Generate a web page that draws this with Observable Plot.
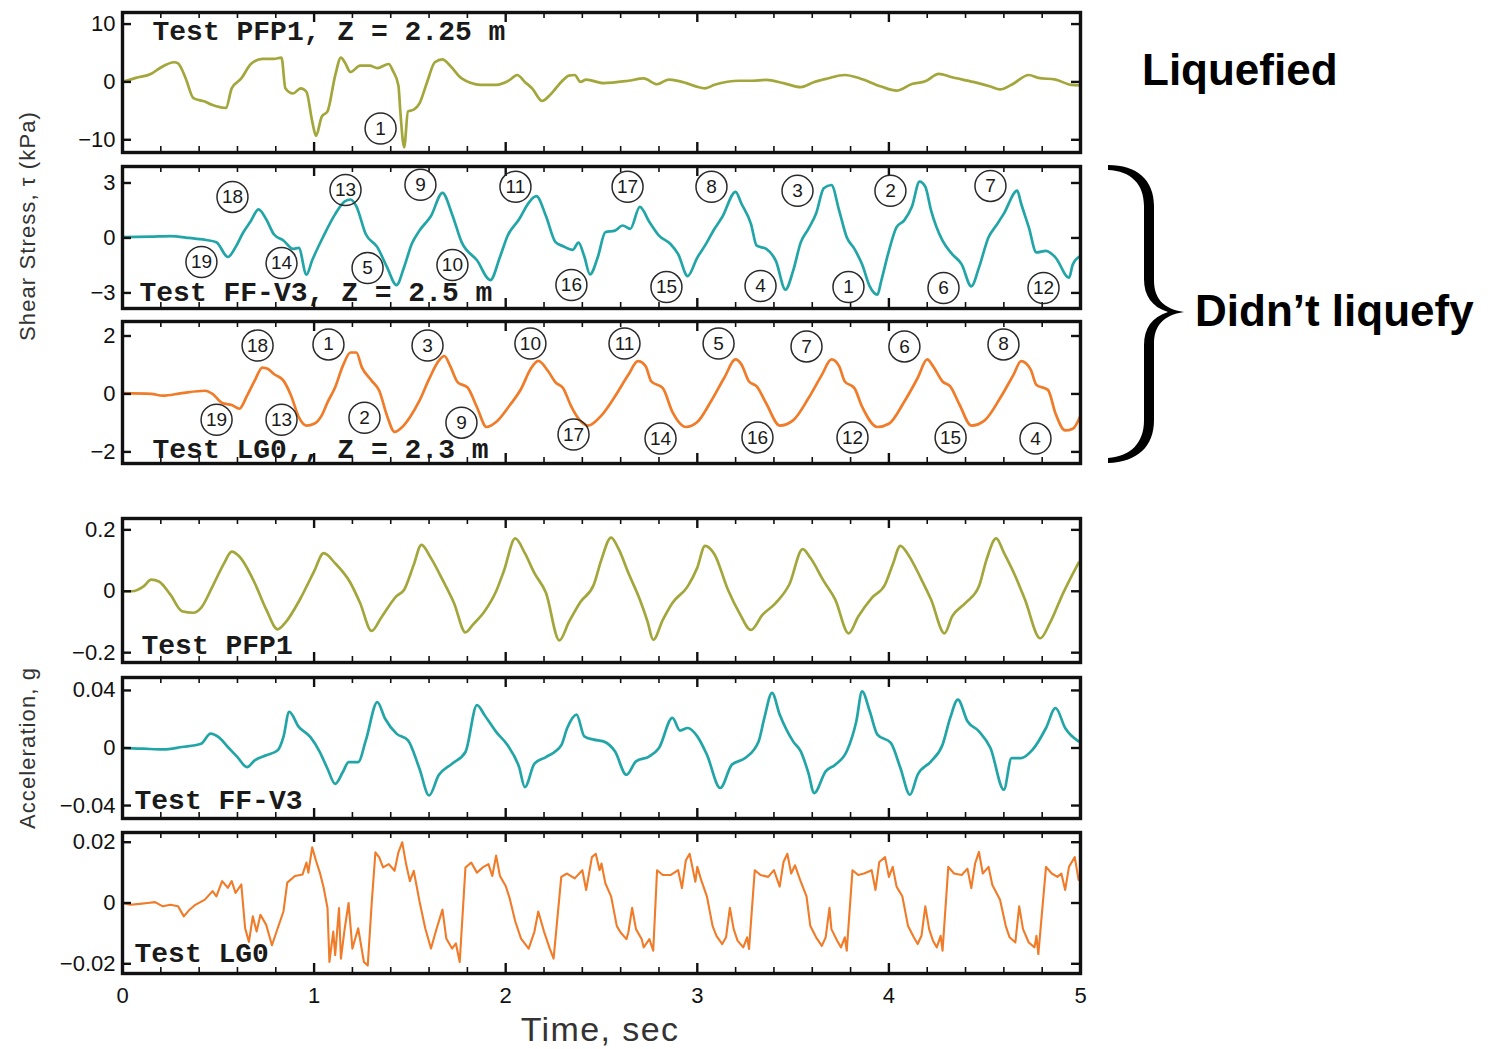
<!DOCTYPE html>
<html>
<head>
<meta charset="utf-8">
<script src="https://cdn.jsdelivr.net/npm/d3@7"></script>
<script src="https://cdn.jsdelivr.net/npm/@observablehq/plot@0.6"></script>
<style>
  body { margin: 0; background: #fff; }
  #chart { position: relative; width: 1490px; height: 1049px; overflow: hidden; background: #fff;
           font-family: "Liberation Sans", Arial, Helvetica, sans-serif; }
  #chart svg.panel { position: absolute; left: 0; }
  #overlay { position: absolute; left: 0; top: 0; pointer-events: none; }
</style>
</head>
<body>
<div id="chart"></div>
<script>
// ---------- time axis ----------
const xMajor = [0, 1, 2, 3, 4, 5];
const xMinor = [0.2, 0.4, 0.6, 0.8, 1.2, 1.4, 1.6, 1.8, 2.2, 2.4, 2.6, 2.8,
                3.2, 3.4, 3.6, 3.8, 4.2, 4.4, 4.6, 4.8];

// ---------- y ticks per panel ----------
const ticksStressPFP1 = [-10, 0, 10];
const ticksStressFFV3 = [-3, 0, 3];
const ticksStressLG0 = [-2, 0, 2];
const ticksAccelPFP1 = [-0.2, 0, 0.2];
const ticksAccelFFV3 = [-0.04, 0, 0.04];
const ticksAccelLG0 = [-0.02, 0, 0.02];

// ---------- shear stress records [time (s), tau (kPa)] ----------
const stressPFP1 = [
  [0,0],[0.07,0.7],[0.15,1.4],[0.2,2.5],[0.27,3.4],[0.29,3.2],[0.33,0.6],[0.37,-2.8],[0.43,-3.4],[0.47,-4],
  [0.54,-4.5],[0.57,-1.1],[0.62,0.6],[0.67,3.1],[0.73,4],[0.79,4],[0.83,4.2],[0.85,-1.1],[0.89,-2],[0.93,-1.1],
  [0.96,-1.7],[0.99,-6.8],[1.01,-9.3],[1.04,-6],[1.07,-5.1],[1.11,1.1],[1.14,4.2],[1.16,3.4],[1.19,1.7],[1.24,2.8],
  [1.29,2.8],[1.33,2.4],[1.39,3.1],[1.41,2],[1.44,-0.6],[1.45,-5.1],[1.47,-11.3],[1.49,-5.1],[1.52,-4.8],[1.55,-3.7],
  [1.59,0],[1.63,3.4],[1.67,3.9],[1.71,2.8],[1.77,0.6],[1.87,-0.5],[1.95,-0.5],[2.02,0.3],[2.06,1.2],[2.1,0],
  [2.14,-1.2],[2.19,-3.3],[2.23,-2.3],[2.29,0],[2.33,1.1],[2.36,1.2],[2.39,0],[2.42,0.4],[2.51,-0.2],[2.64,0.2],
  [2.72,0.6],[2.79,-0.4],[2.85,0.4],[2.91,0.1],[3.04,-1.1],[3.09,-0.5],[3.22,0.2],[3.29,0.2],[3.36,0.35],[3.45,-0.2],
  [3.54,-0.9],[3.61,0],[3.68,0.6],[3.77,1.2],[3.85,0.6],[3.96,-0.8],[4.04,-1.5],[4.12,-0.35],[4.19,0.1],[4.26,1.4],
  [4.33,0.8],[4.44,0],[4.53,-0.8],[4.58,-1.3],[4.64,-0.5],[4.73,1.2],[4.78,0.7],[4.87,0.4],[4.95,-0.5],[5.0,-0.6]
];
const stressFFV3 = [
  [0,0.04],[0.15,0.07],[0.25,0.1],[0.35,0],[0.43,-0.1],[0.49,-0.23],[0.55,-1.04],[0.59,-0.5],[0.63,0.3],[0.67,0.93],
  [0.71,1.56],[0.75,1.02],[0.79,0.2],[0.84,-0.14],[0.89,-0.6],[0.92,-0.54],[0.96,-2.0],[0.99,-1.22],[1.05,0.12],[1.11,1.3],
  [1.16,2.0],[1.19,2.1],[1.22,1.74],[1.27,0.2],[1.33,-0.5],[1.38,-1.58],[1.43,-2.57],[1.47,-1.58],[1.51,-0.32],[1.55,0.4],
  [1.61,1.2],[1.67,2.46],[1.72,1.3],[1.77,-0.23],[1.85,-1.22],[1.92,-2.3],[1.97,-1.04],[2.01,0.12],[2.07,1.02],[2.12,1.92],
  [2.16,2.28],[2.21,1.2],[2.26,-0.23],[2.3,-0.45],[2.35,-0.65],[2.38,-0.25],[2.41,-1.0],[2.44,-1.99],[2.48,-1.07],[2.52,0.31],
  [2.57,0.4],[2.61,0.68],[2.65,0.5],[2.7,1.7],[2.75,0.87],[2.8,0.13],[2.86,-0.33],[2.9,-0.88],[2.95,-2.08],[3.0,-1.07],
  [3.04,-0.42],[3.09,0.5],[3.13,1.14],[3.2,2.52],[3.23,1.88],[3.28,0.77],[3.31,-0.42],[3.36,-0.6],[3.41,-1.25],[3.46,-2.82],
  [3.5,-1.8],[3.54,-0.24],[3.58,0.5],[3.62,1.33],[3.66,2.71],[3.7,2.89],[3.74,1.51],[3.78,0.04],[3.82,-0.6],[3.86,-1.44],
  [3.9,-2.64],[3.94,-3.09],[3.96,-2.35],[4.0,-0.7],[4.04,0.59],[4.08,0.96],[4.12,1.7],[4.16,3.08],[4.19,2.8],[4.22,1.51],
  [4.28,-0.15],[4.33,-0.88],[4.38,-1.44],[4.43,-2.64],[4.47,-1.62],[4.52,0.04],[4.56,0.68],[4.6,1.33],[4.67,2.58],[4.69,1.88],
  [4.73,0.59],[4.77,-0.79],[4.82,-0.7],[4.87,-1.07],[4.94,-2.17],[4.96,-1.44],[5.0,-0.98]
];
const stressLG0 = [
  [0,0.03],[0.15,0],[0.21,-0.06],[0.31,0.03],[0.43,0.11],[0.47,0],[0.52,-0.31],[0.57,-0.38],[0.61,-0.51],[0.65,-0.06],
  [0.69,0.46],[0.73,0.91],[0.76,0.86],[0.79,0.69],[0.84,0.46],[0.88,-0.06],[0.92,-0.8],[0.96,-1.09],[1.0,-1.03],[1.04,-0.74],
  [1.07,-0.29],[1.11,0.23],[1.15,0.97],[1.19,1.43],[1.22,1.43],[1.25,0.91],[1.3,0.46],[1.34,0.11],[1.38,-0.74],[1.42,-1.31],
  [1.46,-1.14],[1.5,-0.8],[1.55,-0.23],[1.6,0.51],[1.65,1.14],[1.68,1.31],[1.71,0.97],[1.75,0.4],[1.8,0.23],[1.85,-0.46],
  [1.9,-1.14],[1.95,-0.97],[2.02,-0.4],[2.08,0.17],[2.13,0.86],[2.17,1.14],[2.22,0.8],[2.26,0.4],[2.3,0.2],[2.34,-0.4],
  [2.38,-0.85],[2.43,-1.09],[2.5,-0.74],[2.57,-0.09],[2.64,0.66],[2.69,1.13],[2.73,0.96],[2.76,0.43],[2.82,0.2],[2.87,-0.62],
  [2.94,-1.14],[3.0,-0.97],[3.07,-0.27],[3.14,0.55],[3.2,1.19],[3.23,1.02],[3.27,0.43],[3.31,0.26],[3.36,-0.33],[3.43,-1.09],
  [3.5,-0.91],[3.58,-0.15],[3.65,0.66],[3.7,1.19],[3.74,0.96],[3.77,0.43],[3.82,0.2],[3.86,-0.44],[3.94,-1.14],[4.0,-1.03],
  [4.08,-0.27],[4.15,0.55],[4.2,1.19],[4.23,0.96],[4.28,0.43],[4.32,0.26],[4.37,-0.39],[4.43,-1.09],[4.5,-0.91],[4.58,-0.15],
  [4.65,0.66],[4.69,1.13],[4.74,0.84],[4.77,0.31],[4.83,0.14],[4.87,-0.68],[4.92,-1.26],[4.96,-1.2],[5.0,-0.74]
];

// ---------- base acceleration records [time (s), acceleration (g)] ----------
const accelPFP1 = [
  [0,0],[0.05,0],[0.11,0.016],[0.15,0.038],[0.19,0.032],[0.25,-0.011],[0.31,-0.065],[0.37,-0.07],[0.41,-0.054],[0.47,0.016],
  [0.53,0.091],[0.57,0.129],[0.61,0.113],[0.69,0.027],[0.75,-0.059],[0.81,-0.124],[0.85,-0.102],[0.93,-0.022],[1.0,0.065],[1.05,0.124],
  [1.11,0.091],[1.19,0.027],[1.24,-0.038],[1.3,-0.129],[1.35,-0.086],[1.43,-0.016],[1.47,0.005],[1.52,0.086],[1.56,0.151],[1.61,0.108],
  [1.67,0.038],[1.73,-0.038],[1.79,-0.134],[1.83,-0.108],[1.89,-0.065],[1.95,0],[1.99,0.065],[2.05,0.172],[2.1,0.124],[2.15,0.059],
  [2.21,-0.005],[2.28,-0.16],[2.33,-0.1],[2.39,-0.035],[2.46,0.022],[2.5,0.104],[2.55,0.175],[2.59,0.137],[2.64,0.06],[2.7,-0.027],
  [2.74,-0.098],[2.77,-0.158],[2.82,-0.093],[2.87,-0.038],[2.95,0.016],[3.0,0.077],[3.04,0.148],[3.09,0.12],[3.16,0.005],[3.22,-0.071],
  [3.28,-0.126],[3.34,-0.077],[3.41,-0.038],[3.48,0.022],[3.55,0.137],[3.59,0.109],[3.66,0.033],[3.72,-0.027],[3.79,-0.137],[3.84,-0.082],
  [3.91,-0.022],[3.98,0.022],[4.02,0.087],[4.06,0.148],[4.1,0.12],[4.17,0.038],[4.22,-0.027],[4.29,-0.137],[4.33,-0.082],[4.4,-0.038],
  [4.47,0.016],[4.51,0.104],[4.56,0.172],[4.6,0.126],[4.66,0.049],[4.71,-0.027],[4.79,-0.153],[4.84,-0.104],[4.91,-0.005],[4.99,0.093]
];
const accelFFV3 = [
  [0,0],[0.11,-0.0005],[0.21,-0.001],[0.31,0.0007],[0.41,0.003],[0.46,0.01],[0.5,0.0077],[0.55,0.0007],[0.6,-0.0063],[0.65,-0.0133],
  [0.69,-0.0086],[0.75,-0.0051],[0.81,-0.0016],[0.84,0.0077],[0.87,0.0251],[0.92,0.0147],[0.98,0.0077],[1.03,-0.0028],[1.07,-0.0144],[1.11,-0.0249],
  [1.15,-0.0167],[1.18,-0.0098],[1.23,-0.0098],[1.27,0.0053],[1.33,0.0319],[1.37,0.0205],[1.43,0.01],[1.49,0.0053],[1.55,-0.0144],[1.6,-0.033],
  [1.65,-0.019],[1.72,-0.0109],[1.79,-0.0028],[1.85,0.0298],[1.89,0.0228],[1.95,0.0112],[2.01,0.0019],[2.07,-0.0133],[2.1,-0.0272],[2.15,-0.0109],
  [2.21,-0.0063],[2.29,0.0019],[2.32,0.0135],[2.37,0.0232],[2.41,0.0081],[2.46,0.0058],[2.51,0.0046],[2.57,-0.0023],[2.63,-0.0186],[2.68,-0.0093],
  [2.75,-0.0058],[2.8,0],[2.87,0.0209],[2.91,0.0121],[2.95,0.0139],[3.0,0.0081],[3.05,-0.0046],[3.12,-0.0278],[3.18,-0.0116],[3.25,-0.007],
  [3.32,0.0046],[3.35,0.0209],[3.39,0.0383],[3.43,0.0232],[3.5,0.0046],[3.54,-0.0023],[3.58,-0.0174],[3.61,-0.0313],[3.67,-0.0162],[3.72,-0.0116],
  [3.78,-0.0023],[3.83,0.0186],[3.86,0.0394],[3.9,0.0255],[3.94,0.0093],[4.01,0.0035],[4.06,-0.0139],[4.11,-0.0325],[4.15,-0.0186],[4.22,-0.0093],
  [4.28,0.0023],[4.32,0.0209],[4.36,0.0336],[4.41,0.0186],[4.47,0.0116],[4.53,0],[4.6,-0.029],[4.64,-0.007],[4.69,-0.007],[4.75,-0.0012],
  [4.82,0.0139],[4.87,0.0278],[4.92,0.0139],[4.99,0.0046]
];
const accelLG0 = [
  [0,0],[0.04,-0.0006],[0.09,-0.0003],[0.13,0],[0.17,0.0003],[0.21,-0.0011],[0.25,-0.0006],[0.29,-0.0011],[0.32,-0.0044],[0.35,-0.0022],
  [0.38,-0.0006],[0.43,0.0011],[0.47,0.0039],[0.49,0.0022],[0.52,0.0072],[0.55,0.005],[0.57,0.0072],[0.59,0.0033],[0.62,0.0061],[0.64,-0.0083],
  [0.66,-0.0128],[0.68,-0.0044],[0.7,-0.0094],[0.72,-0.0039],[0.75,-0.0072],[0.78,-0.0139],[0.81,-0.0083],[0.84,-0.0028],[0.86,0.0067],[0.9,0.0089],
  [0.94,0.0094],[0.96,0.0133],[0.97,0.01],[0.99,0.0183],[1.01,0.0139],[1.03,0.01],[1.05,0.005],[1.07,-0.0017],[1.08,-0.0194],[1.1,-0.0094],
  [1.11,-0.0172],[1.13,-0.0017],[1.14,-0.0183],[1.16,-0.0083],[1.18,0],[1.2,-0.015],[1.23,-0.0083],[1.26,-0.0194],[1.28,-0.0206],[1.3,-0.0006],
  [1.32,0.0167],[1.34,0.015],[1.36,0.0117],[1.39,0.0128],[1.42,0.0106],[1.44,0.0167],[1.46,0.02],[1.48,0.0128],[1.5,0.0072],[1.52,0.0106],
  [1.55,0.0006],[1.58,-0.0083],[1.61,-0.015],[1.64,-0.0083],[1.67,-0.0022],[1.69,-0.0117],[1.72,-0.015],[1.74,-0.0133],[1.76,-0.0194],[1.79,0.0117],
  [1.82,0.0133],[1.85,0.01],[1.88,0.0117],[1.91,0.0128],[1.93,0.0089],[1.95,0.0156],[1.97,0.0089],[2.0,0.0056],[2.02,0.0017],[2.05,-0.0061],
  [2.08,-0.0117],[2.12,-0.015],[2.15,-0.0094],[2.17,-0.0028],[2.2,-0.0094],[2.23,-0.015],[2.25,-0.0183],[2.29,0.0086],[2.32,0.0097],[2.36,0.0081],
  [2.4,0.0108],[2.42,0.0043],[2.45,0.0151],[2.47,0.0162],[2.49,0.0108],[2.5,0.013],[2.52,0.0065],[2.55,0.0022],[2.58,-0.0076],[2.6,-0.0097],
  [2.63,-0.0119],[2.64,-0.0097],[2.66,-0.0016],[2.68,-0.0086],[2.71,-0.0119],[2.72,-0.0146],[2.75,-0.0119],[2.77,-0.0157],[2.79,0.0108],[2.82,0.0092],
  [2.86,0.0092],[2.9,0.0108],[2.92,0.0049],[2.94,0.014],[2.96,0.0162],[2.99,0.007],[3.0,0.0119],[3.02,0.0076],[3.05,0.0022],[3.08,-0.0076],
  [3.1,-0.0108],[3.13,-0.0135],[3.15,-0.0113],[3.17,-0.0016],[3.19,-0.0086],[3.21,-0.0124],[3.24,-0.0146],[3.26,-0.0113],[3.27,-0.0151],[3.3,0.0108],
  [3.33,0.0092],[3.37,0.0086],[3.4,0.0108],[3.43,0.0054],[3.45,0.0135],[3.47,0.0162],[3.49,0.0097],[3.51,0.0124],[3.54,0.007],[3.57,0.0022],
  [3.59,-0.0076],[3.62,-0.0113],[3.65,-0.0141],[3.67,-0.0113],[3.69,-0.0016],[3.7,-0.0086],[3.73,-0.0124],[3.75,-0.0146],[3.77,-0.0113],[3.78,-0.0157],
  [3.81,0.0108],[3.84,0.0092],[3.87,0.0097],[3.91,0.0108],[3.93,0.0043],[3.95,0.0135],[3.98,0.0151],[4.0,0.0086],[4.02,0.0119],[4.04,0.0054],
  [4.07,0.0022],[4.1,-0.0076],[4.13,-0.0113],[4.15,-0.0135],[4.17,-0.0108],[4.19,-0.0011],[4.21,-0.0086],[4.23,-0.0124],[4.25,-0.0146],[4.27,-0.0108],
  [4.28,-0.0157],[4.31,0.0119],[4.34,0.0097],[4.38,0.0092],[4.41,0.0113],[4.43,0.0049],[4.45,0.013],[4.47,0.0168],[4.49,0.0097],[4.52,0.0119],
  [4.54,0.0059],[4.58,0.0011],[4.61,-0.0076],[4.63,-0.0113],[4.66,-0.013],[4.68,-0.0011],[4.7,-0.0086],[4.73,-0.013],[4.76,-0.0146],[4.77,-0.0108],
  [4.78,-0.0168],[4.82,0.0119],[4.85,0.0097],[4.88,0.0086],[4.9,0.0097],[4.92,0.0043],[4.94,0.0119],[4.97,0.0151],[4.99,0.0076]
];

// ---------- circled cycle numbers [label, time (s), tau (kPa)] ----------
const cyclesPFP1 = [["1", 1.347, -8.05]];
const cyclesFFV3 = [
  ["18",0.574,2.24],["13",1.164,2.62],["9",1.555,2.9],["11",2.051,2.79],["17",2.636,2.79],["8",3.074,2.79],
  ["3",3.523,2.57],["2",4.008,2.57],["7",4.53,2.84],
  ["19",0.412,-1.31],["14",0.83,-1.37],["5",1.279,-1.64],["10",1.722,-1.48],["16",2.343,-2.57],["15",2.839,-2.68],
  ["4",3.33,-2.62],["1",3.789,-2.68],["6",4.285,-2.73],["12",4.807,-2.73]
];
const cyclesLG0 = [
  ["18",0.705,1.67],["1",1.075,1.71],["3",1.592,1.67],["10",2.129,1.74],["11",2.62,1.74],["5",3.111,1.74],
  ["7",3.57,1.64],["6",4.081,1.64],["8",4.598,1.71],
  ["19",0.491,-0.89],["13",0.83,-0.89],["2",1.263,-0.82],["9",1.769,-0.99],["17",2.354,-1.4],["14",2.808,-1.54],
  ["16",3.314,-1.5],["12",3.81,-1.5],["15",4.322,-1.5],["4",4.765,-1.54]
];

// ---------- colours ----------
const olive = "#a3a73b";
const teal = "#22a5a7";
const orange = "#f07b28";

const panels = [
  {data: stressPFP1, color: olive, domain: [-12.2, 12], ticks: ticksStressPFP1, top: 12, bottom: 152,
   label: "Test PFP1, Z = 2.25 m", anchor: "top-left", dx: 30, dy: 19, cycles: cyclesPFP1},
  {data: stressFFV3, color: teal, domain: [-3.85, 3.9], ticks: ticksStressFFV3, top: 166, bottom: 308,
   label: "Test FF-V3, Z = 2.5 m", anchor: "bottom-left", dx: 17, dy: -16, cycles: cyclesFFV3},
  {data: stressLG0, color: orange, domain: [-2.4, 2.5], ticks: ticksStressLG0, top: 321, bottom: 463,
   label: "Test LG0,, Z = 2.3 m", anchor: "bottom-left", dx: 30, dy: -14, cycles: cyclesLG0},
  {data: accelPFP1, color: olive, domain: [-0.232, 0.237], ticks: ticksAccelPFP1, top: 518, bottom: 662,
   label: "Test PFP1", anchor: "bottom-left", dx: 19, dy: -17},
  {data: accelFFV3, color: teal, domain: [-0.049, 0.049], ticks: ticksAccelFFV3, top: 677, bottom: 818,
   label: "Test FF-V3", anchor: "bottom-left", dx: 12, dy: -18},
  {data: accelLG0, color: orange, domain: [-0.0232, 0.0232], ticks: ticksAccelLG0, top: 832, bottom: 973,
   label: "Test LG0", anchor: "bottom-left", dx: 12, dy: -20, thin: true, xAxis: true}
];

const chart = document.getElementById("chart");
const W = 1100, ML = 122, MR = 20, MT = 4;
const innerW = W - ML - MR;
const yFmt = d => d === 0 ? "0" : d3.format("")(d);

for (const p of panels) {
  const ih = p.bottom - p.top;
  const mb = p.xAxis ? 50 : 4;
  const marks = [
    Plot.line(p.data, {x: d => d[0], y: d => d[1], stroke: p.color,
      strokeWidth: p.thin ? 2.1 : 2.7, curve: p.thin ? "linear" : "monotone-x"}),
    // inward ticks on all four sides
    Plot.ruleX(xMinor, {insetTop: ih - 6, stroke: "#111", strokeWidth: 1.6}),
    Plot.ruleX(xMinor, {insetBottom: ih - 6, stroke: "#111", strokeWidth: 1.6}),
    Plot.ruleX(xMajor, {insetTop: ih - 10, stroke: "#111", strokeWidth: 2.4}),
    Plot.ruleX(xMajor, {insetBottom: ih - 10, stroke: "#111", strokeWidth: 2.4}),
    Plot.ruleY(p.ticks, {insetRight: innerW - 9, stroke: "#111", strokeWidth: 2.4}),
    Plot.ruleY(p.ticks, {insetLeft: innerW - 9, stroke: "#111", strokeWidth: 2.4}),
    Plot.frame({stroke: "#111", strokeWidth: 3.4}),
    Plot.axisY(p.ticks, {tickSize: 0, tickPadding: 7, fontSize: 22, tickFormat: yFmt, label: null, fill: "#111"}),
    Plot.text([p.label], {frameAnchor: p.anchor, text: d => d, dx: p.dx, dy: p.dy, textAnchor: "start",
      lineAnchor: "middle", fontFamily: "'Liberation Mono', 'Courier New', monospace", fontWeight: "bold",
      fontSize: 28, fill: "#1a1a1a"})
  ];
  if (p.cycles) {
    marks.push(
      Plot.dot(p.cycles, {x: d => d[1], y: d => d[2], r: 15.5, stroke: "#2a2a2a", strokeWidth: 1.5, fill: "none"}),
      Plot.text(p.cycles, {x: d => d[1], y: d => d[2], text: d => d[0], fontSize: 19, fill: "#1a1a1a"})
    );
  }
  if (p.xAxis) {
    marks.push(Plot.axisX(xMajor, {tickSize: 0, tickPadding: 14, fontSize: 22, tickFormat: d3.format("d"),
      label: null, fill: "#111"}));
  }
  const svg = Plot.plot({
    width: W, height: ih + MT + mb,
    marginLeft: ML, marginRight: MR, marginTop: MT, marginBottom: mb,
    x: {domain: [0, 5], axis: p.xAxis ? undefined : null},
    y: {domain: p.domain},
    style: {background: "transparent", fontFamily: "'Liberation Sans', Arial, sans-serif", overflow: "visible"},
    marks
  });
  svg.classList.add("panel");
  svg.style.top = (p.top - MT) + "px";
  svg.style.maxWidth = "none";
  chart.appendChild(svg);
}

// ---------- axis titles, group labels and brace ----------
const NS = "http://www.w3.org/2000/svg";
const ov = document.createElementNS(NS, "svg");
ov.setAttribute("id", "overlay");
ov.setAttribute("width", 1490);
ov.setAttribute("height", 1049);
function addText(str, attrs) {
  const t = document.createElementNS(NS, "text");
  for (const [k, v] of Object.entries(attrs)) t.setAttribute(k, v);
  t.textContent = str;
  ov.appendChild(t);
}
const sans = "'Liberation Sans', Arial, Helvetica, sans-serif";
addText("Shear Stress, \u03c4 (kPa)", {x: 0, y: 0, transform: "translate(35,226) rotate(-90)", "text-anchor": "middle",
  "font-family": sans, "font-size": 22, "letter-spacing": 1.1, fill: "#333"});
addText("Acceleration, g", {x: 0, y: 0, transform: "translate(35,748) rotate(-90)", "text-anchor": "middle",
  "font-family": sans, "font-size": 22, "letter-spacing": 1.1, fill: "#333"});
addText("Time, sec", {x: 600, y: 1041, "text-anchor": "middle", "font-family": sans, "font-size": 34,
  "letter-spacing": 1.4, fill: "#333"});
addText("Liquefied", {x: 1142, y: 85, "font-family": sans, "font-size": 44, "font-weight": "bold", fill: "#000"});
addText("Didn\u2019t liquefy", {x: 1195, y: 326, "font-family": sans, "font-size": 44, "font-weight": "bold", fill: "#000"});

const brace = document.createElementNS(NS, "path");
brace.setAttribute("d",
  "M1108,165 C1137,165 1154,180 1154,206 L1154,280 C1154,298 1163,309 1184,312 " +
  "C1163,315 1154,326 1154,344 L1154,420 C1154,447 1137,462 1108,463 L1108,458 " +
  "C1131,456 1144,443 1144,420 L1144,345 C1144,328 1152,317 1168,312 " +
  "C1152,307 1144,296 1144,279 L1144,206 C1144,184 1131,171 1108,170 Z");
brace.setAttribute("fill", "#000");
ov.appendChild(brace);
chart.appendChild(ov);
</script>
</body>
</html>
